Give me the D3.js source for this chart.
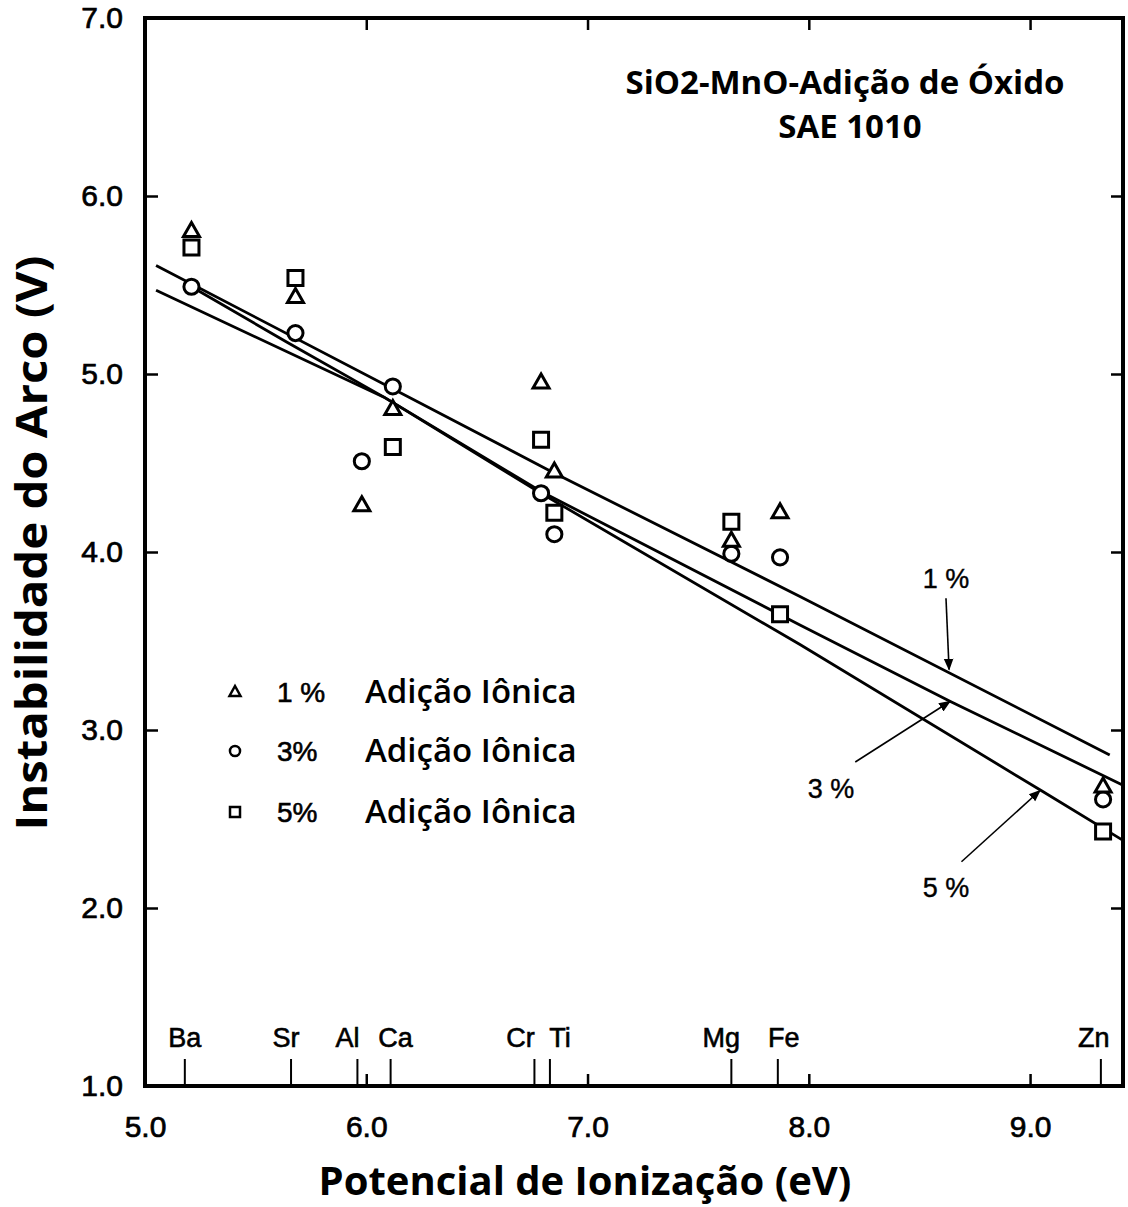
<!DOCTYPE html>
<html lang="pt">
<head>
<meta charset="utf-8">
<title>Instabilidade do Arco vs Potencial de Ionização</title>
<style>
body { margin: 0; background: #fff; }
svg { display: block; }
.tick text { font-family: "Liberation Sans", Arial, sans-serif; font-size: 30px; fill: #000; stroke: #000; stroke-width: 0.7px; }
.tick line { stroke: #000; stroke-width: 2.5px; }
.domain { display: none; }
.elem { font-family: "Liberation Sans", Arial, sans-serif; font-size: 27px; stroke: #000; stroke-width: 0.6px; }
.ann { font-family: "Liberation Sans", Arial, sans-serif; font-size: 27px; stroke: #000; stroke-width: 0.4px; }
.title { font-family: "Open Sans", sans-serif; font-weight: bold; font-size: 33px; }
.axtitle { font-family: "Open Sans", sans-serif; font-weight: bold; font-size: 40px; }
.legtext { font-family: "Open Sans", sans-serif; font-weight: 600; font-size: 33px; }
.legpct { font-family: "Liberation Sans", Arial, sans-serif; font-size: 28px; stroke: #000; stroke-width: 0.6px; }
.fit { fill: none; stroke: #000; stroke-width: 2.8px; }
.mk { fill: #fff; stroke: #000; stroke-width: 3px; }
</style>
</head>
<body>
<svg width="1128" height="1207"></svg>
<script src="https://d3js.org/d3.v7.min.js"></script>
<script>
// elements on the bottom axis (ionization potential, eV)
var elements   = ["Ba", "Sr", "Al", "Ca", "Cr", "Ti", "Mg", "Fe", "Zn"];
var elemTicks  = [5.18, 5.66, 5.96, 6.11, 6.76, 6.83, 7.65, 7.86, 9.32];
var markerX    = [5.21, 5.68, 5.98, 6.12, 6.79, 6.85, 7.65, 7.87, 9.33];

// arc instability (V) for each addition level
var pct1 = [5.80, 5.43, 4.26, 4.80, 4.95, 4.45, 4.06, 4.22, 2.68];
var pct3 = [5.49, 5.23, 4.51, 4.93, 4.33, 4.10, 3.99, 3.97, 2.61];
var pct5 = [5.71, 5.54, null, 4.59, 4.63, 4.22, 4.17, 3.65, 2.43];

// hand drawn fit lines, [x, y]
var line1 = [[5.05, 5.61], [6.84, 4.45], [7.96, 3.75], [9.36, 2.86]];
var line3 = [[5.21, 5.49], [5.64, 5.18], [6.08, 4.87], [6.79, 4.34], [7.96, 3.59], [8.64, 3.16], [9.42, 2.69]];
var line5 = [[5.05, 5.47], [6.08, 4.87], [6.79, 4.33], [7.96, 3.48], [9.05, 2.66], [9.42, 2.38]];

var xTicks = [5, 6, 7, 8, 9];
var yTicks = [1, 2, 3, 4, 5, 6, 7];

var svg = d3.select("svg");
var pL = 145, pR = 1123, pT = 18, pB = 1086;  // plot box

var x = d3.scaleLinear().domain([5, 9.42]).range([pL, pR]);
var y = d3.scaleLinear().domain([1, 7]).range([pB, pT]);

svg.append("defs").append("marker")
    .attr("id", "arrowhead")
    .attr("viewBox", "0 -5 10 10")
    .attr("refX", 9)
    .attr("refY", 0)
    .attr("orient", "auto")
    .attr("markerWidth", 12)
    .attr("markerHeight", 12)
    .attr("markerUnits", "userSpaceOnUse")
  .append("path")
    .attr("d", "M0,-4L10,0L0,4Z")
    .attr("fill", "#000");

// axes (inward ticks)
svg.append("g").attr("transform", "translate(" + pL + ",0)")
    .call(d3.axisLeft(y).tickValues(yTicks).tickSize(-13).tickPadding(22).tickFormat(d3.format(".1f")));
svg.append("g").attr("transform", "translate(" + pR + ",0)")
    .call(d3.axisRight(y).tickValues(yTicks.slice(1, 6)).tickSize(-12).tickFormat(""));
svg.append("g").attr("transform", "translate(0," + pB + ")")
    .call(d3.axisBottom(x).tickValues(xTicks).tickSize(-12).tickPadding(30).tickFormat(d3.format(".1f")));
svg.append("g").attr("transform", "translate(0," + pT + ")")
    .call(d3.axisTop(x).tickValues(xTicks.slice(1)).tickSize(-12).tickFormat(""));

// frame
svg.append("rect")
    .attr("x", pL).attr("y", pT)
    .attr("width", pR - pL).attr("height", pB - pT)
    .attr("fill", "none").attr("stroke", "#000").attr("stroke-width", 4);

// element ticks + labels
var labelDx = {Ba: 0, Sr: -5, Al: -10, Ca: 5, Cr: -14, Ti: 10, Mg: -10, Fe: 6, Zn: -7};
var eg = svg.append("g");
eg.selectAll("line").data(elements).join("line")
    .attr("x1", function(d, i) { return x(elemTicks[i]); })
    .attr("x2", function(d, i) { return x(elemTicks[i]); })
    .attr("y1", pB).attr("y2", pB - 27)
    .attr("stroke", "#000").attr("stroke-width", 2);
eg.selectAll("text").data(elements).join("text")
    .attr("class", "elem")
    .attr("x", function(d, i) { return x(elemTicks[i]) + labelDx[d]; })
    .attr("y", pB - 39)
    .attr("text-anchor", "middle")
    .text(function(d) { return d; });

// fit lines
var lineGen = d3.line().x(function(d) { return x(d[0]); }).y(function(d) { return y(d[1]); });
svg.selectAll("path.fit").data([line1, line3, line5]).join("path")
    .attr("class", "fit")
    .attr("d", lineGen);

// markers
var shapes = {
  tri: "M0,-9L8,5L-8,5Z",
  circ: d3.symbol().type(d3.symbolCircle).size(180)(),
  sq: "M-7.5,-7.5H7.5V7.5H-7.5Z"
};
function drawSeries(vals, shape) {
  var pts = vals.map(function(v, i) { return {x: markerX[i], y: v}; })
                .filter(function(d) { return d.y != null; });
  svg.append("g").selectAll("path").data(pts).join("path")
      .attr("class", "mk")
      .attr("d", shapes[shape])
      .attr("transform", function(d) { return "translate(" + x(d.x) + "," + y(d.y) + ")"; });
}
drawSeries(pct5, "sq");
drawSeries(pct3, "circ");
drawSeries(pct1, "tri");

// line annotations
var annotations = [
  {t: "1 %", tx: 8.62, ty: 3.80, x1: 8.62, y1: 3.74, x2: 8.634, y2: 3.34},
  {t: "3 %", tx: 8.10, ty: 2.62, x1: 8.21, y1: 2.82, x2: 8.638, y2: 3.16},
  {t: "5 %", tx: 8.62, ty: 2.06, x1: 8.69, y1: 2.26, x2: 9.045, y2: 2.66}
];
var ag = svg.append("g");
ag.selectAll("text").data(annotations).join("text")
    .attr("class", "ann")
    .attr("x", function(d) { return x(d.tx); })
    .attr("y", function(d) { return y(d.ty); })
    .attr("text-anchor", "middle")
    .text(function(d) { return d.t; });
ag.selectAll("line").data(annotations).join("line")
    .attr("x1", function(d) { return x(d.x1); })
    .attr("y1", function(d) { return y(d.y1); })
    .attr("x2", function(d) { return x(d.x2); })
    .attr("y2", function(d) { return y(d.y2); })
    .attr("stroke", "#000").attr("stroke-width", 1.6)
    .attr("marker-end", "url(#arrowhead)");

// legend
var legend = [
  {shape: "M0,-6L5.5,4L-5.5,4Z", pct: "1 %"},
  {shape: d3.symbol().type(d3.symbolCircle).size(80)(), pct: "3%"},
  {shape: "M-5,-5H5V5H-5Z", pct: "5%"}
];
var lg = svg.append("g").attr("transform", "translate(235,0)");
var rows = lg.selectAll("g").data(legend).join("g")
    .attr("transform", function(d, i) { return "translate(0," + [692, 751, 812][i] + ")"; });
rows.append("path").attr("d", function(d) { return d.shape; })
    .attr("fill", "#fff").attr("stroke", "#000").attr("stroke-width", 2.5);
rows.append("text").attr("class", "legpct").attr("x", 42).attr("y", 10)
    .text(function(d) { return d.pct; });
rows.append("text").attr("class", "legtext").attr("x", 130).attr("y", 11)
    .text("Adição Iônica");

// titles
svg.append("text").attr("class", "title").attr("x", 845).attr("y", 94)
    .attr("text-anchor", "middle").text("SiO2-MnO-Adição de Óxido");
svg.append("text").attr("class", "title").attr("x", 850).attr("y", 138)
    .attr("text-anchor", "middle").text("SAE 1010");

svg.append("text").attr("class", "axtitle")
    .attr("x", 585).attr("y", 1195)
    .attr("text-anchor", "middle").text("Potencial de Ionização (eV)");
svg.append("text").attr("class", "axtitle")
    .attr("transform", "translate(47,543) rotate(-90)")
    .attr("text-anchor", "middle")
    .attr("textLength", 575).attr("lengthAdjust", "spacingAndGlyphs")
    .style("font-size", "43px")
    .text("Instabilidade do Arco (V)");
</script>
</body>
</html>
